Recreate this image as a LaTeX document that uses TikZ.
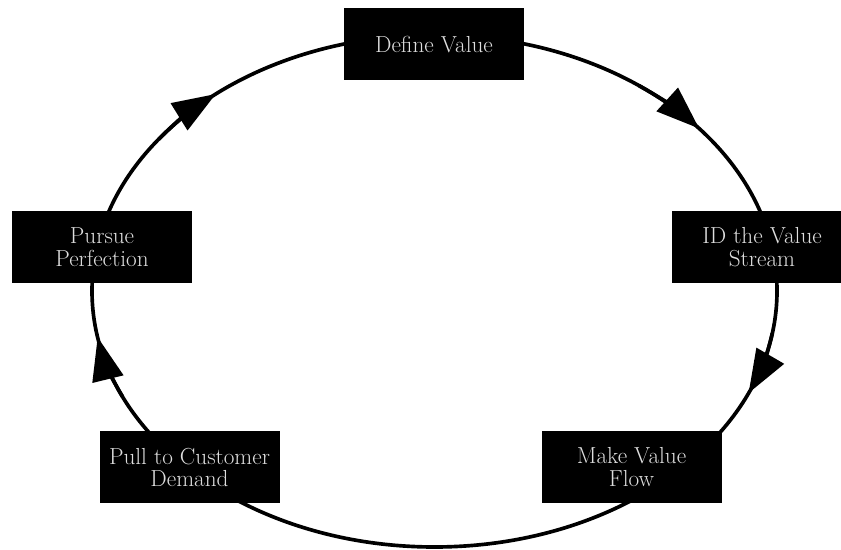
\documentclass[tikz,border=0pt]{standalone}
\usepackage{fontspec}
\usepackage{tikz}
\usetikzlibrary{arrows.meta,calc}
\definecolor{boxtext}{RGB}{222,222,222}

\begin{document}
\begin{tikzpicture}[
        cyc/.style={line width=2.6pt},
        cycarrow/.style={cyc,-{Triangle[length=1.08cm,width=0.78cm]}},
        stepbox/.style={fill=black,text=boxtext,minimum width=4.5cm,minimum height=1.8cm,
            inner sep=0pt,align=center,font=\fontsize{16.5}{16}\selectfont}]
            \useasboundingbox (0,0) rectangle (21.025,13.75);
            \coordinate (c) at (10.8625,6.475);

            \draw[cyc] (c) ellipse [x radius=8.5625cm, y radius=6.4cm];
            \foreach \t in {39.4,-23.5,190.4,129.7}
                \draw[cycarrow] ($(c)+({\t+14}:8.5625cm and 6.4cm)$)
                    arc [start angle=\t+14, end angle=\t, x radius=8.5625cm, y radius=6.4cm];

            \node[stepbox] (define)   at (10.85,12.6375)  {Define Value};
            \node[stepbox] (idstream) at (19.05,7.575)    {ID the Value\\Stream};
            \node[stepbox] (makeflow) at (15.7875,2.075)  {Make Value\\Flow};
            \node[stepbox] (pull)     at (4.7375,2.0625)  {Pull to Customer\\Demand};
            \node[stepbox] (pursue)   at (2.55,7.575)     {Pursue\\Perfection};
    \end{tikzpicture}
\end{document}
